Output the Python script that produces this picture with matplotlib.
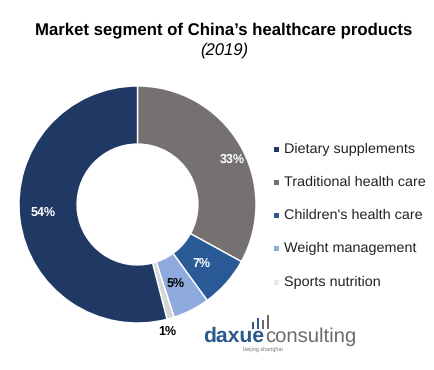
import matplotlib
matplotlib.use('Agg')
import matplotlib.pyplot as plt

segments = ['Dietary supplements', 'Traditional health care', "Children's health care", 'Weight management', 'Sports nutrition']
values = [54, 33, 7, 5, 1]
labels = ['54%', '33%', '7%', '5%', '1%']
colors = ['#1f3864', '#767171', '#2a5a96', '#8faadc', '#d4d6da']
label_colors = ['white', 'white', 'white', 'black', 'black']

plt.rcParams['font.family'] = ['Liberation Sans', 'DejaVu Sans']
plt.rcParams['text.hinting'] = 'no_hinting'

fig = plt.figure(figsize=(4.35, 3.70), dpi=100)
ax = fig.add_axes([19 / 435, 1 - 323 / 370, 237 / 435, 237 / 370])
ax.set_aspect('equal')

# starts at 12 o'clock and goes clockwise, dietary supplements last
order = [1, 2, 3, 4, 0]
wedges, _ = ax.pie([values[i] for i in order], colors=[colors[i] for i in order],
                   startangle=90, counterclock=False, radius=1,
                   wedgeprops=dict(width=0.49, edgecolor='white', linewidth=1))
ax.set_xlim(-1, 1)
ax.set_ylim(-1, 1)

# % labels, in axes coordinates of the ring
label_pos = [(-0.80, -0.07), (0.80, 0.38), (0.54, -0.50), (0.32, -0.67), (0.25, -1.07)]
for txt, (x, y), c in zip(labels, label_pos, label_colors):
    ax.text(x, y, txt, color=c, fontsize=9, fontweight='bold', ha='center', va='center', clip_on=False)

fig.text(224 / 435, 1 - 30 / 370, "Market segment of China\u2019s healthcare products",
         fontsize=12.1, fontweight='bold', ha='center', va='center')
fig.text(224 / 435, 1 - 50 / 370, '(2019)', fontsize=12, style='italic', ha='center', va='center')

# overlay in pixel coordinates for legend squares and logo
top_ax = fig.add_axes([0, 0, 1, 1], facecolor='none')
top_ax.set_xlim(0, 435)
top_ax.set_ylim(370, 0)
top_ax.axis('off')

# legend
legend_y = [149, 182, 215, 248, 282]
legend_squares = ['#1f3864', '#767171', '#2a5a96', '#8faadc', '#e8e9eb']
for name, c, y in zip(segments, legend_squares, legend_y):
    top_ax.bar(277, 5, width=5, bottom=y - 2, color=c)
    top_ax.text(284, y, name, fontsize=10.4, ha='left', va='center', color='#222222')

# logo
top_ax.text(203, 342, 'daxue', fontsize=15.2, fontweight='bold', color='#2a5a8c', ha='left', va='baseline')
top_ax.text(265, 342, 'consulting', fontsize=14.6, color='#6b6b6b', ha='left', va='baseline')
top_ax.text(263, 349, 'beijing shanghai', fontsize=4, color='#777777', ha='center', va='center')
logo_x = [253, 258, 263, 268]
logo_h = [7, 11, 9, 14]
logo_c = ['#2a5a8c', '#2a5a8c', '#6b6b6b', '#6b6b6b']
top_ax.bar(logo_x, logo_h, width=2.2, bottom=[329 - h for h in logo_h], color=logo_c)

fig.savefig('out.png', dpi=100)
